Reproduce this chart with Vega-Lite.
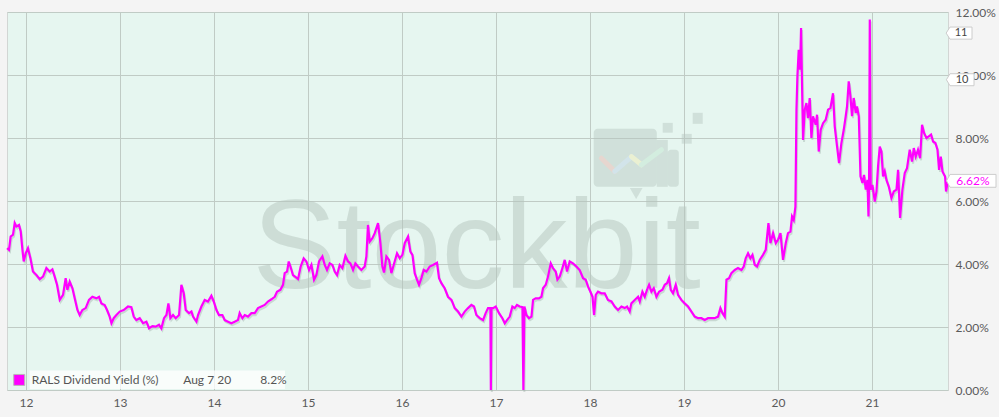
{
  "$schema": "https://vega.github.io/schema/vega-lite/v6.json",
  "width": 941,
  "height": 378,
  "autosize": "none",
  "padding": {"left": 7, "top": 12, "right": 51, "bottom": 27},
  "background": "#f4f4f4",
  "config": {
    "view": {"fill": "#e6f6f0", "stroke": "#d2d6d4"},
    "font": "Lato",
    "axis": {"labelFont": "Lato", "labelFontSize": 12, "labelColor": "#5a5a5a", "gridColor": "#c0cbc5", "gridOpacity": 1}
  },
  "datasets": {
    "rals": [
      {"year": 2011.798, "yield": 4.50}, {"year": 2011.819, "yield": 4.45}, {"year": 2011.837, "yield": 4.87},
      {"year": 2011.862, "yield": 4.93}, {"year": 2011.880, "yield": 5.30}, {"year": 2011.898, "yield": 5.19},
      {"year": 2011.926, "yield": 5.24}, {"year": 2011.944, "yield": 5.03}, {"year": 2011.962, "yield": 4.45},
      {"year": 2011.976, "yield": 4.08}, {"year": 2011.997, "yield": 4.34}, {"year": 2012.021, "yield": 4.50},
      {"year": 2012.047, "yield": 4.18}, {"year": 2012.074, "yield": 3.76}, {"year": 2012.111, "yield": 3.65},
      {"year": 2012.146, "yield": 3.52}, {"year": 2012.181, "yield": 3.60}, {"year": 2012.217, "yield": 3.87},
      {"year": 2012.252, "yield": 3.76}, {"year": 2012.281, "yield": 3.83}, {"year": 2012.305, "yield": 3.60},
      {"year": 2012.330, "yield": 3.34}, {"year": 2012.359, "yield": 2.86}, {"year": 2012.394, "yield": 3.02},
      {"year": 2012.422, "yield": 3.55}, {"year": 2012.440, "yield": 3.18}, {"year": 2012.465, "yield": 3.44},
      {"year": 2012.494, "yield": 3.23}, {"year": 2012.518, "yield": 2.91}, {"year": 2012.547, "yield": 2.54},
      {"year": 2012.571, "yield": 2.38}, {"year": 2012.600, "yield": 2.54}, {"year": 2012.635, "yield": 2.60},
      {"year": 2012.670, "yield": 2.86}, {"year": 2012.706, "yield": 2.96}, {"year": 2012.749, "yield": 2.91},
      {"year": 2012.777, "yield": 2.96}, {"year": 2012.802, "yield": 2.75}, {"year": 2012.837, "yield": 2.70},
      {"year": 2012.862, "yield": 2.54}, {"year": 2012.890, "yield": 2.33}, {"year": 2012.909, "yield": 2.12},
      {"year": 2012.933, "yield": 2.28}, {"year": 2012.962, "yield": 2.38}, {"year": 2012.997, "yield": 2.49},
      {"year": 2013.039, "yield": 2.54}, {"year": 2013.085, "yield": 2.65}, {"year": 2013.121, "yield": 2.63},
      {"year": 2013.146, "yield": 2.33}, {"year": 2013.174, "yield": 2.22}, {"year": 2013.210, "yield": 2.28},
      {"year": 2013.245, "yield": 2.12}, {"year": 2013.281, "yield": 2.17}, {"year": 2013.309, "yield": 1.96},
      {"year": 2013.345, "yield": 2.03}, {"year": 2013.380, "yield": 2.01}, {"year": 2013.415, "yield": 2.07},
      {"year": 2013.440, "yield": 1.96}, {"year": 2013.468, "yield": 2.28}, {"year": 2013.494, "yield": 2.38},
      {"year": 2013.515, "yield": 2.75}, {"year": 2013.536, "yield": 2.28}, {"year": 2013.564, "yield": 2.38},
      {"year": 2013.593, "yield": 2.28}, {"year": 2013.628, "yield": 2.38}, {"year": 2013.653, "yield": 3.34},
      {"year": 2013.678, "yield": 3.07}, {"year": 2013.699, "yield": 2.54}, {"year": 2013.734, "yield": 2.44},
      {"year": 2013.760, "yield": 2.49}, {"year": 2013.777, "yield": 2.33}, {"year": 2013.813, "yield": 2.17},
      {"year": 2013.830, "yield": 2.38}, {"year": 2013.866, "yield": 2.65}, {"year": 2013.901, "yield": 2.86},
      {"year": 2013.936, "yield": 2.81}, {"year": 2013.972, "yield": 2.99}, {"year": 2013.997, "yield": 2.81},
      {"year": 2014.026, "yield": 2.54}, {"year": 2014.053, "yield": 2.38}, {"year": 2014.089, "yield": 2.38},
      {"year": 2014.114, "yield": 2.22}, {"year": 2014.149, "yield": 2.17}, {"year": 2014.185, "yield": 2.12},
      {"year": 2014.220, "yield": 2.17}, {"year": 2014.255, "yield": 2.22}, {"year": 2014.273, "yield": 2.44},
      {"year": 2014.302, "yield": 2.28}, {"year": 2014.327, "yield": 2.38}, {"year": 2014.362, "yield": 2.33},
      {"year": 2014.398, "yield": 2.44}, {"year": 2014.433, "yield": 2.44}, {"year": 2014.468, "yield": 2.60},
      {"year": 2014.504, "yield": 2.65}, {"year": 2014.539, "yield": 2.70}, {"year": 2014.574, "yield": 2.81},
      {"year": 2014.611, "yield": 2.88}, {"year": 2014.646, "yield": 2.96}, {"year": 2014.670, "yield": 3.12},
      {"year": 2014.706, "yield": 3.18}, {"year": 2014.734, "yield": 3.34}, {"year": 2014.752, "yield": 3.71},
      {"year": 2014.777, "yield": 3.76}, {"year": 2014.795, "yield": 4.08}, {"year": 2014.813, "yield": 3.92},
      {"year": 2014.840, "yield": 3.65}, {"year": 2014.869, "yield": 3.58}, {"year": 2014.894, "yield": 3.52},
      {"year": 2014.922, "yield": 3.92}, {"year": 2014.954, "yield": 4.18}, {"year": 2014.983, "yield": 4.08},
      {"year": 2015.011, "yield": 3.81}, {"year": 2015.036, "yield": 3.97}, {"year": 2015.064, "yield": 3.50},
      {"year": 2015.089, "yield": 3.65}, {"year": 2015.117, "yield": 4.08}, {"year": 2015.153, "yield": 4.24},
      {"year": 2015.178, "yield": 3.97}, {"year": 2015.202, "yield": 3.81}, {"year": 2015.231, "yield": 4.02},
      {"year": 2015.260, "yield": 3.97}, {"year": 2015.284, "yield": 3.76}, {"year": 2015.309, "yield": 3.65},
      {"year": 2015.337, "yield": 3.97}, {"year": 2015.366, "yield": 3.87}, {"year": 2015.398, "yield": 4.26},
      {"year": 2015.426, "yield": 4.08}, {"year": 2015.451, "yield": 4.02}, {"year": 2015.479, "yield": 3.81},
      {"year": 2015.504, "yield": 4.02}, {"year": 2015.532, "yield": 3.92}, {"year": 2015.568, "yield": 3.81},
      {"year": 2015.603, "yield": 3.92}, {"year": 2015.621, "yield": 4.24}, {"year": 2015.638, "yield": 5.24},
      {"year": 2015.656, "yield": 4.71}, {"year": 2015.685, "yield": 4.82}, {"year": 2015.710, "yield": 4.98},
      {"year": 2015.745, "yield": 5.30}, {"year": 2015.770, "yield": 4.66}, {"year": 2015.791, "yield": 3.92},
      {"year": 2015.809, "yield": 3.73}, {"year": 2015.834, "yield": 4.24}, {"year": 2015.862, "yield": 4.13},
      {"year": 2015.887, "yield": 3.71}, {"year": 2015.922, "yield": 4.08}, {"year": 2015.947, "yield": 4.34},
      {"year": 2015.976, "yield": 4.18}, {"year": 2016.004, "yield": 4.29}, {"year": 2016.029, "yield": 4.66},
      {"year": 2016.064, "yield": 4.87}, {"year": 2016.089, "yield": 4.39}, {"year": 2016.111, "yield": 4.29},
      {"year": 2016.135, "yield": 3.71}, {"year": 2016.160, "yield": 3.50}, {"year": 2016.181, "yield": 3.34},
      {"year": 2016.206, "yield": 3.55}, {"year": 2016.231, "yield": 3.81}, {"year": 2016.260, "yield": 3.76},
      {"year": 2016.295, "yield": 3.92}, {"year": 2016.330, "yield": 3.97}, {"year": 2016.372, "yield": 4.04},
      {"year": 2016.394, "yield": 3.55}, {"year": 2016.419, "yield": 3.39}, {"year": 2016.454, "yield": 3.23},
      {"year": 2016.489, "yield": 2.96}, {"year": 2016.526, "yield": 2.86}, {"year": 2016.561, "yield": 2.60},
      {"year": 2016.596, "yield": 2.49}, {"year": 2016.632, "yield": 2.33}, {"year": 2016.667, "yield": 2.49},
      {"year": 2016.702, "yield": 2.60}, {"year": 2016.738, "yield": 2.70}, {"year": 2016.766, "yield": 2.65},
      {"year": 2016.791, "yield": 2.38}, {"year": 2016.827, "yield": 2.28}, {"year": 2016.862, "yield": 2.22},
      {"year": 2016.890, "yield": 2.44}, {"year": 2016.915, "yield": 2.60}, {"year": 2016.940, "yield": 2.60},
      {"year": 2016.945, "yield": 0.00}, {"year": 2016.952, "yield": 2.60}, {"year": 2016.969, "yield": 2.60},
      {"year": 2016.997, "yield": 2.65}, {"year": 2017.032, "yield": 2.44}, {"year": 2017.068, "yield": 2.28},
      {"year": 2017.093, "yield": 2.12}, {"year": 2017.117, "yield": 2.22}, {"year": 2017.146, "yield": 2.33},
      {"year": 2017.174, "yield": 2.65}, {"year": 2017.199, "yield": 2.60}, {"year": 2017.223, "yield": 2.70},
      {"year": 2017.252, "yield": 2.65}, {"year": 2017.281, "yield": 2.63}, {"year": 2017.291, "yield": 0.00},
      {"year": 2017.302, "yield": 2.65}, {"year": 2017.323, "yield": 2.38}, {"year": 2017.351, "yield": 2.28},
      {"year": 2017.377, "yield": 2.33}, {"year": 2017.394, "yield": 2.86}, {"year": 2017.422, "yield": 2.91},
      {"year": 2017.457, "yield": 2.91}, {"year": 2017.483, "yield": 2.96}, {"year": 2017.500, "yield": 3.23},
      {"year": 2017.529, "yield": 3.34}, {"year": 2017.553, "yield": 3.60}, {"year": 2017.582, "yield": 4.02},
      {"year": 2017.606, "yield": 3.87}, {"year": 2017.635, "yield": 3.76}, {"year": 2017.653, "yield": 3.50},
      {"year": 2017.678, "yield": 3.60}, {"year": 2017.706, "yield": 3.87}, {"year": 2017.731, "yield": 4.13},
      {"year": 2017.755, "yield": 3.76}, {"year": 2017.784, "yield": 4.08}, {"year": 2017.819, "yield": 4.02},
      {"year": 2017.855, "yield": 3.92}, {"year": 2017.890, "yield": 3.81}, {"year": 2017.926, "yield": 3.55},
      {"year": 2017.954, "yield": 3.50}, {"year": 2017.979, "yield": 3.28}, {"year": 2018.004, "yield": 3.12},
      {"year": 2018.026, "yield": 2.96}, {"year": 2018.043, "yield": 2.38}, {"year": 2018.061, "yield": 3.02},
      {"year": 2018.085, "yield": 3.12}, {"year": 2018.121, "yield": 3.07}, {"year": 2018.156, "yield": 3.07},
      {"year": 2018.191, "yield": 2.86}, {"year": 2018.228, "yield": 2.81}, {"year": 2018.263, "yield": 2.65},
      {"year": 2018.298, "yield": 2.54}, {"year": 2018.334, "yield": 2.65}, {"year": 2018.369, "yield": 2.60},
      {"year": 2018.394, "yield": 2.65}, {"year": 2018.422, "yield": 2.49}, {"year": 2018.440, "yield": 2.75},
      {"year": 2018.476, "yield": 2.86}, {"year": 2018.511, "yield": 2.96}, {"year": 2018.529, "yield": 2.81},
      {"year": 2018.557, "yield": 3.12}, {"year": 2018.582, "yield": 2.96}, {"year": 2018.606, "yield": 3.18},
      {"year": 2018.628, "yield": 3.34}, {"year": 2018.653, "yield": 3.12}, {"year": 2018.678, "yield": 3.23},
      {"year": 2018.706, "yield": 2.96}, {"year": 2018.734, "yield": 3.12}, {"year": 2018.770, "yield": 3.18},
      {"year": 2018.795, "yield": 3.34}, {"year": 2018.819, "yield": 3.39}, {"year": 2018.840, "yield": 3.55},
      {"year": 2018.859, "yield": 3.18}, {"year": 2018.883, "yield": 3.07}, {"year": 2018.912, "yield": 3.34},
      {"year": 2018.936, "yield": 3.02}, {"year": 2018.972, "yield": 2.86}, {"year": 2019.007, "yield": 2.75},
      {"year": 2019.043, "yield": 2.65}, {"year": 2019.079, "yield": 2.49}, {"year": 2019.114, "yield": 2.33},
      {"year": 2019.149, "yield": 2.28}, {"year": 2019.185, "yield": 2.28}, {"year": 2019.220, "yield": 2.22},
      {"year": 2019.255, "yield": 2.28}, {"year": 2019.291, "yield": 2.28}, {"year": 2019.326, "yield": 2.28},
      {"year": 2019.362, "yield": 2.33}, {"year": 2019.387, "yield": 2.60}, {"year": 2019.409, "yield": 2.44},
      {"year": 2019.433, "yield": 2.33}, {"year": 2019.451, "yield": 3.50}, {"year": 2019.479, "yield": 3.55},
      {"year": 2019.504, "yield": 3.71}, {"year": 2019.540, "yield": 3.81}, {"year": 2019.574, "yield": 3.87},
      {"year": 2019.611, "yield": 3.81}, {"year": 2019.635, "yield": 3.92}, {"year": 2019.656, "yield": 4.18},
      {"year": 2019.681, "yield": 4.34}, {"year": 2019.706, "yield": 4.18}, {"year": 2019.728, "yield": 4.29},
      {"year": 2019.752, "yield": 3.97}, {"year": 2019.777, "yield": 3.92}, {"year": 2019.805, "yield": 4.13},
      {"year": 2019.840, "yield": 4.29}, {"year": 2019.869, "yield": 4.45}, {"year": 2019.898, "yield": 5.30},
      {"year": 2019.919, "yield": 4.66}, {"year": 2019.947, "yield": 4.98}, {"year": 2019.976, "yield": 4.66},
      {"year": 2020.000, "yield": 4.77}, {"year": 2020.026, "yield": 4.98}, {"year": 2020.053, "yield": 4.13},
      {"year": 2020.082, "yield": 4.66}, {"year": 2020.106, "yield": 4.98}, {"year": 2020.132, "yield": 5.03},
      {"year": 2020.149, "yield": 5.51}, {"year": 2020.167, "yield": 5.40}, {"year": 2020.185, "yield": 5.82},
      {"year": 2020.196, "yield": 8.90}, {"year": 2020.206, "yield": 9.96}, {"year": 2020.220, "yield": 10.80},
      {"year": 2020.234, "yield": 10.17}, {"year": 2020.245, "yield": 11.49}, {"year": 2020.255, "yield": 9.74},
      {"year": 2020.266, "yield": 7.94}, {"year": 2020.284, "yield": 8.90}, {"year": 2020.302, "yield": 9.11},
      {"year": 2020.319, "yield": 8.63}, {"year": 2020.337, "yield": 9.27}, {"year": 2020.355, "yield": 8.00},
      {"year": 2020.372, "yield": 8.69}, {"year": 2020.401, "yield": 8.42}, {"year": 2020.415, "yield": 8.74},
      {"year": 2020.433, "yield": 7.57}, {"year": 2020.454, "yield": 8.26}, {"year": 2020.479, "yield": 8.47},
      {"year": 2020.507, "yield": 8.58}, {"year": 2020.532, "yield": 8.90}, {"year": 2020.557, "yield": 8.95},
      {"year": 2020.585, "yield": 9.42}, {"year": 2020.603, "yield": 8.37}, {"year": 2020.628, "yield": 7.73},
      {"year": 2020.649, "yield": 7.20}, {"year": 2020.674, "yield": 7.84}, {"year": 2020.699, "yield": 8.26},
      {"year": 2020.720, "yield": 8.69}, {"year": 2020.734, "yield": 9.00}, {"year": 2020.752, "yield": 9.80},
      {"year": 2020.770, "yield": 9.32}, {"year": 2020.787, "yield": 8.69}, {"year": 2020.805, "yield": 9.27},
      {"year": 2020.827, "yield": 8.79}, {"year": 2020.840, "yield": 9.00}, {"year": 2020.859, "yield": 8.69},
      {"year": 2020.877, "yield": 6.78}, {"year": 2020.898, "yield": 6.57}, {"year": 2020.915, "yield": 6.83},
      {"year": 2020.933, "yield": 6.36}, {"year": 2020.951, "yield": 6.67}, {"year": 2020.962, "yield": 5.51},
      {"year": 2020.968, "yield": 6.46}, {"year": 2020.976, "yield": 11.76}, {"year": 2020.986, "yield": 6.36},
      {"year": 2021.004, "yield": 6.51}, {"year": 2021.029, "yield": 5.98}, {"year": 2021.047, "yield": 6.30},
      {"year": 2021.064, "yield": 7.10}, {"year": 2021.082, "yield": 7.73}, {"year": 2021.100, "yield": 7.57},
      {"year": 2021.117, "yield": 6.78}, {"year": 2021.135, "yield": 6.94}, {"year": 2021.153, "yield": 6.67},
      {"year": 2021.178, "yield": 6.46}, {"year": 2021.206, "yield": 6.09}, {"year": 2021.231, "yield": 6.30},
      {"year": 2021.260, "yield": 6.36}, {"year": 2021.277, "yield": 6.99}, {"year": 2021.298, "yield": 5.46},
      {"year": 2021.323, "yield": 6.36}, {"year": 2021.348, "yield": 6.89}, {"year": 2021.372, "yield": 7.04},
      {"year": 2021.401, "yield": 7.63}, {"year": 2021.426, "yield": 7.25}, {"year": 2021.444, "yield": 7.68},
      {"year": 2021.465, "yield": 7.41}, {"year": 2021.489, "yield": 7.63}, {"year": 2021.511, "yield": 7.36},
      {"year": 2021.532, "yield": 8.42}, {"year": 2021.553, "yield": 8.16}, {"year": 2021.579, "yield": 8.00},
      {"year": 2021.603, "yield": 8.05}, {"year": 2021.628, "yield": 8.11}, {"year": 2021.649, "yield": 7.89},
      {"year": 2021.674, "yield": 7.84}, {"year": 2021.696, "yield": 7.63}, {"year": 2021.713, "yield": 6.99},
      {"year": 2021.731, "yield": 7.41}, {"year": 2021.749, "yield": 6.94}, {"year": 2021.777, "yield": 6.78},
      {"year": 2021.787, "yield": 6.30}, {"year": 2021.805, "yield": 6.62}
    ]
  },
  "layer": [
    {
      "data": {"name": "rals"},
      "mark": {"type": "line", "color": "#8fa39a", "strokeWidth": 2, "opacity": 0.35, "yOffset": 2, "xOffset": 1},
      "encoding": {
        "x": {
          "field": "year", "type": "quantitative",
          "scale": {"domain": [2011.798, 2021.808], "nice": false, "zero": false},
          "axis": {
            "title": null, "values": [2012, 2013, 2014, 2015, 2016, 2017, 2018, 2019, 2020, 2021],
            "labelExpr": "'' + (datum.value - 2000)", "grid": true, "ticks": false, "domain": false,
            "labelPadding": 7, "labelFlush": false
          }
        },
        "y": {
          "field": "yield", "type": "quantitative",
          "scale": {"domain": [0, 12], "nice": false},
          "axis": {
            "title": null, "orient": "right", "values": [0, 2, 4, 6, 8, 10, 12],
            "labelExpr": "format(datum.value, '.2f') + '%'", "grid": true, "ticks": false, "domain": false,
            "labelPadding": 7, "labelFlush": false
          }
        }
      }
    },
    {
      "data": {"values": [{}]},
      "mark": {"type": "text", "text": "Stockbit", "font": "Liberation Sans", "fontSize": 126, "align": "left", "baseline": "alphabetic", "color": "#b5c6be", "opacity": 0.5},
      "encoding": {"x": {"datum": 2014.409, "type": "quantitative"}, "y": {"datum": 3.24, "type": "quantitative"}}
    },
    {
      "data": {"values": [{}]},
      "mark": {"type": "rect", "cornerRadius": 4, "color": "#b5c6be", "opacity": 0.45},
      "encoding": {"x": {"datum": 2018.039, "type": "quantitative"}, "x2": {"datum": 2018.710}, "y": {"datum": 8.29, "type": "quantitative"}, "y2": {"datum": 6.45}}
    },
    {
      "data": {"values": [{}]},
      "mark": {"type": "rect", "color": "#b5c6be", "opacity": 0.45},
      "encoding": {"x": {"datum": 2018.710, "type": "quantitative"}, "x2": {"datum": 2018.827}, "y": {"datum": 7.94, "type": "quantitative"}, "y2": {"datum": 6.45}}
    },
    {
      "data": {"values": [{}]},
      "mark": {"type": "rect", "cornerRadius": 3, "color": "#b5c6be", "opacity": 0.45},
      "encoding": {"x": {"datum": 2018.827, "type": "quantitative"}, "x2": {"datum": 2018.944}, "y": {"datum": 7.63, "type": "quantitative"}, "y2": {"datum": 6.45}}
    },
    {
      "data": {"values": [{}]},
      "mark": {"type": "point", "shape": "triangle-down", "size": 160, "filled": true, "color": "#b5c6be", "opacity": 0.45},
      "encoding": {"x": {"datum": 2018.491, "type": "quantitative"}, "y": {"datum": 6.24, "type": "quantitative"}}
    },
    {
      "data": {"values": [{}]},
      "mark": {"type": "rect", "color": "#b5c6be", "opacity": 0.45},
      "encoding": {"x": {"datum": 2018.773, "type": "quantitative"}, "x2": {"datum": 2018.880}, "y": {"datum": 8.48, "type": "quantitative"}, "y2": {"datum": 8.17}}
    },
    {
      "data": {"values": [{}]},
      "mark": {"type": "rect", "color": "#b5c6be", "opacity": 0.45},
      "encoding": {"x": {"datum": 2019.092, "type": "quantitative"}, "x2": {"datum": 2019.199}, "y": {"datum": 8.80, "type": "quantitative"}, "y2": {"datum": 8.45}}
    },
    {
      "data": {"values": [{}]},
      "mark": {"type": "rect", "color": "#b5c6be", "opacity": 0.45},
      "encoding": {"x": {"datum": 2018.975, "type": "quantitative"}, "x2": {"datum": 2019.082}, "y": {"datum": 8.13, "type": "quantitative"}, "y2": {"datum": 7.82}}
    },
    {
      "data": {"values": [{}]},
      "mark": {"type": "rule", "color": "#e6d6cf", "strokeWidth": 5, "strokeCap": "round"},
      "encoding": {"x": {"datum": 2018.121, "type": "quantitative"}, "y": {"datum": 7.36, "type": "quantitative"}, "x2": {"datum": 2018.263}, "y2": {"datum": 6.94}}
    },
    {
      "data": {"values": [{}]},
      "mark": {"type": "rule", "color": "#d2e4ea", "strokeWidth": 5, "strokeCap": "round"},
      "encoding": {"x": {"datum": 2018.263, "type": "quantitative"}, "y": {"datum": 6.94, "type": "quantitative"}, "x2": {"datum": 2018.441}, "y2": {"datum": 7.41}}
    },
    {
      "data": {"values": [{}]},
      "mark": {"type": "rule", "color": "#eaf0d2", "strokeWidth": 5, "strokeCap": "round"},
      "encoding": {"x": {"datum": 2018.441, "type": "quantitative"}, "y": {"datum": 7.41, "type": "quantitative"}, "x2": {"datum": 2018.547}, "y2": {"datum": 7.15}}
    },
    {
      "data": {"values": [{}]},
      "mark": {"type": "rule", "color": "#d3eddf", "strokeWidth": 5, "strokeCap": "round"},
      "encoding": {"x": {"datum": 2018.547, "type": "quantitative"}, "y": {"datum": 7.15, "type": "quantitative"}, "x2": {"datum": 2018.760}, "y2": {"datum": 7.63}}
    },
    {
      "data": {"name": "rals"},
      "mark": {"type": "line", "color": "#ff00ff", "strokeWidth": 2.2},
      "encoding": {"x": {"field": "year", "type": "quantitative"}, "y": {"field": "yield", "type": "quantitative"}}
    },
    {
      "data": {"values": [{}]},
      "mark": {"type": "rect", "color": "#ffffff", "opacity": 0.75},
      "encoding": {"x": {"datum": 2012.039, "type": "quantitative"}, "x2": {"datum": 2014.755}, "y": {"datum": 0.62, "type": "quantitative"}, "y2": {"datum": 0.03}}
    },
    {
      "data": {"values": [{}]},
      "mark": {"type": "point", "shape": "square", "size": 120, "filled": true, "fill": "#ff00ff", "stroke": "#b8b8b8", "strokeWidth": 1, "opacity": 1},
      "encoding": {"x": {"datum": 2011.928, "type": "quantitative"}, "y": {"datum": 0.32, "type": "quantitative"}}
    },
    {
      "data": {"values": [{}]},
      "mark": {"type": "text", "text": "RALS Dividend Yield (%)", "align": "left", "baseline": "middle", "fontSize": 12, "color": "#555555"},
      "encoding": {"x": {"datum": 2012.061, "type": "quantitative"}, "y": {"datum": 0.32, "type": "quantitative"}}
    },
    {
      "data": {"values": [{}]},
      "mark": {"type": "text", "text": "Aug 7 20", "align": "left", "baseline": "middle", "fontSize": 12, "color": "#555555"},
      "encoding": {"x": {"datum": 2013.672, "type": "quantitative"}, "y": {"datum": 0.32, "type": "quantitative"}}
    },
    {
      "data": {"values": [{}]},
      "mark": {"type": "text", "text": "8.2%", "align": "left", "baseline": "middle", "fontSize": 12, "color": "#555555"},
      "encoding": {"x": {"datum": 2014.493, "type": "quantitative"}, "y": {"datum": 0.32, "type": "quantitative"}}
    },
    {
      "data": {"values": [{}]},
      "mark": {"type": "point", "shape": "M -1.35 0 L -1 -0.55 L 1 -0.55 L 1 0.55 L -1 0.55 Z", "size": 484, "filled": true, "fill": "#ffffff", "stroke": "#cccccc", "strokeWidth": 1, "opacity": 1, "xOffset": 13},
      "encoding": {"x": {"datum": 2021.808, "type": "quantitative"}, "y": {"datum": 11.33, "type": "quantitative"}}
    },
    {
      "data": {"values": [{}]},
      "mark": {"type": "text", "text": "11", "align": "center", "baseline": "middle", "fontSize": 11, "color": "#444444", "dx": 13},
      "encoding": {"x": {"datum": 2021.808, "type": "quantitative"}, "y": {"datum": 11.33, "type": "quantitative"}}
    },
    {
      "data": {"values": [{}]},
      "mark": {"type": "point", "shape": "M -1.3 0 L -1 -0.5 L 1 -0.5 L 1 0.5 L -1 0.5 Z", "size": 576, "filled": true, "fill": "#ffffff", "stroke": "#cccccc", "strokeWidth": 1, "opacity": 1, "xOffset": 14},
      "encoding": {"x": {"datum": 2021.808, "type": "quantitative"}, "y": {"datum": 9.85, "type": "quantitative"}}
    },
    {
      "data": {"values": [{}]},
      "mark": {"type": "text", "text": "10", "align": "center", "baseline": "middle", "fontSize": 11, "color": "#444444", "dx": 14},
      "encoding": {"x": {"datum": 2021.808, "type": "quantitative"}, "y": {"datum": 9.85, "type": "quantitative"}}
    },
    {
      "data": {"values": [{}]},
      "mark": {"type": "point", "shape": "M -1.15 0 L -1 -0.28 L 1 -0.28 L 1 0.28 L -1 0.28 Z", "size": 2116, "filled": true, "fill": "#ffffff", "stroke": "#cccccc", "strokeWidth": 1, "opacity": 1, "xOffset": 25},
      "encoding": {"x": {"datum": 2021.808, "type": "quantitative"}, "y": {"datum": 6.64, "type": "quantitative"}}
    },
    {
      "data": {"values": [{}]},
      "mark": {"type": "text", "text": "6.62%", "align": "center", "baseline": "middle", "fontSize": 12, "color": "#ff00ff", "dx": 25},
      "encoding": {"x": {"datum": 2021.808, "type": "quantitative"}, "y": {"datum": 6.64, "type": "quantitative"}}
    }
  ]
}
